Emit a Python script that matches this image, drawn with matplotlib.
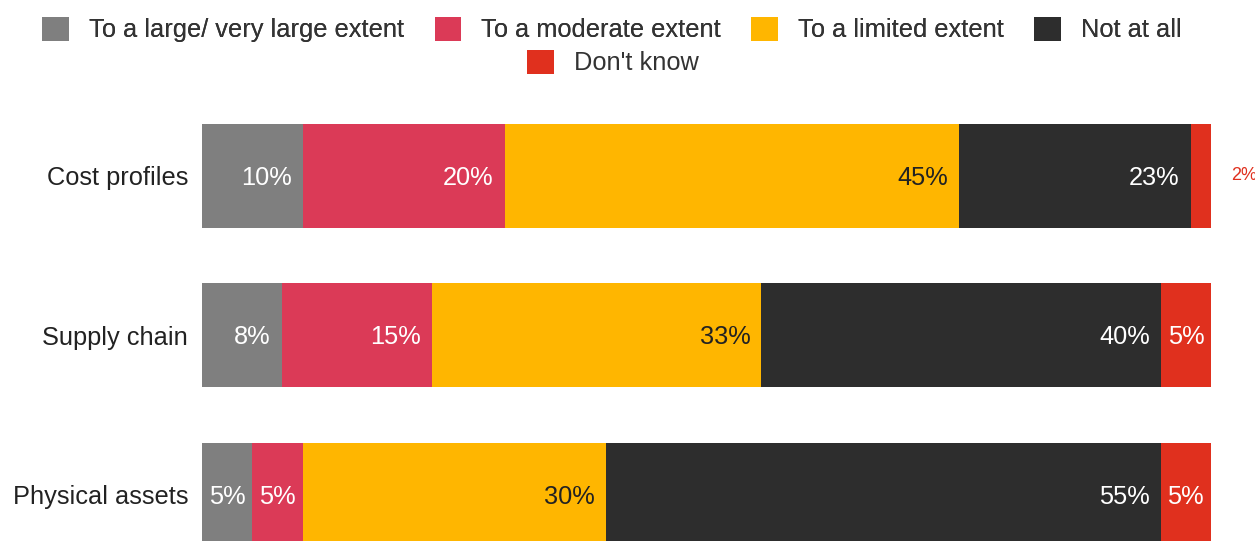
import matplotlib
matplotlib.use("Agg")
import matplotlib.pyplot as plt
from matplotlib.patches import Patch
import numpy as np

plt.rcParams['font.family'] = ['Liberation Sans', 'DejaVu Sans']

categories = ["Cost profiles", "Supply chain", "Physical assets"]
series_names = ["To a large/ very large extent", "To a moderate extent",
                "To a limited extent", "Not at all", "Don't know"]
large = [10, 8, 5]
moderate = [20, 15, 5]
limited = [45, 33, 30]
not_at_all = [23, 40, 55]
dont_know = [2, 5, 5]

colors = ["#7f7f7f", "#db3a57", "#ffb600", "#2d2d2d", "#e0301e"]
text_colors = ["white", "white", "#222222", "white", "white"]

series = [large, moderate, limited, not_at_all, dont_know]
data = np.array(series, dtype=float)
totals = data.sum(axis=0)
norm = data / totals * 100

FS = 18.3
fig = plt.figure(figsize=(12.55, 5.41), dpi=100)
ax = fig.add_axes([202/1255, 0, 1009/1255, 1])
ypos = np.arange(len(categories))
bar_h = 104/159.5

left = np.zeros(len(categories))
for s in range(len(series)):
    ax.barh(ypos, norm[s], left=left, height=bar_h, color=colors[s],
            edgecolor='none', label=series_names[s])
    for i in range(len(categories)):
        val = series[s][i]
        w = norm[s][i]
        if w >= 6:
            ax.text(left[i] + w - 1.1, ypos[i] + 0.01, f"{val}%", ha='right', va='center',
                    color=text_colors[s], fontsize=FS)
        elif w >= 4:
            ax.text(left[i] + w / 2, ypos[i] + 0.01, f"{val}%", ha='center', va='center',
                    color=text_colors[s], fontsize=FS)
        else:
            ax.text(left[i] + w + 2.0, ypos[i], f"{val}%", ha='left', va='center',
                    color=colors[s], fontsize=13, clip_on=False)
    left += norm[s]

ax.set_xlim(0, 100)
ax.set_ylim((541-176)/159.5, -176/159.5)
ax.set_yticks(ypos)
ax.set_yticklabels(categories, fontsize=FS, color="#222222")
ax.tick_params(axis='y', length=0, pad=10)
ax.set_xticks([])
for sp in ax.spines.values():
    sp.set_visible(False)

handles = [Patch(facecolor=c, edgecolor='none') for c in colors]
leg1 = fig.legend(handles[:4], series_names[:4], loc='center', ncol=4,
                  bbox_to_anchor=(612/1255, 1 - 29.5/541), frameon=False,
                  fontsize=FS, handlelength=1.05, handleheight=1.1,
                  handletextpad=0.78, columnspacing=1.2, labelcolor="#333333")
fig.add_artist(leg1)
leg2 = fig.legend(handles[4:], series_names[4:], loc='center', ncol=1,
                  bbox_to_anchor=(613/1255, 1 - 62.5/541), frameon=False,
                  fontsize=FS, handlelength=1.05, handleheight=1.1,
                  handletextpad=0.78, labelcolor="#333333")

fig.savefig("out.png", dpi=100)
